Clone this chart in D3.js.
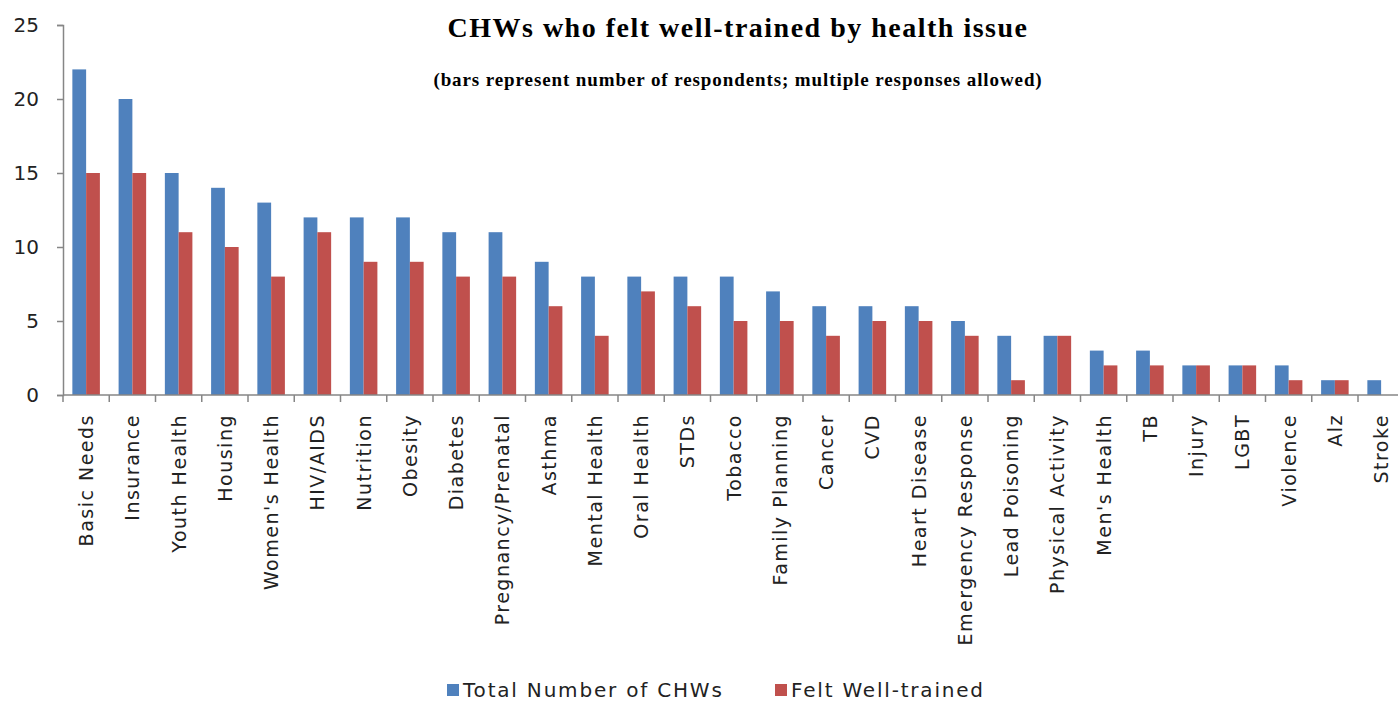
<!DOCTYPE html>
<html>
<head>
<meta charset="utf-8">
<script src="https://cdn.jsdelivr.net/npm/d3@7"></script>
<style>
  body { margin: 0; background: #fff; }
</style>
</head>
<body>
<div class="chart"></div>
<script>
var svgWidth = 1398;
var svgHeight = 703;

// data
var issues = ["Basic Needs", "Insurance", "Youth Health", "Housing", "Women's Health", "HIV/AIDS",
  "Nutrition", "Obesity", "Diabetes", "Pregnancy/Prenatal", "Asthma", "Mental Health", "Oral Health",
  "STDs", "Tobacco", "Family Planning", "Cancer", "CVD", "Heart Disease", "Emergency Response",
  "Lead Poisoning", "Physical Activity", "Men's Health", "TB", "Injury", "LGBT", "Violence", "Alz", "Stroke"];
var totalCHWs = [22, 20, 15, 14, 13, 12, 12, 12, 11, 11, 9, 8, 8, 8, 8, 7, 6, 6, 6, 5, 4, 4, 3, 3, 2, 2, 2, 1, 1];
var wellTrained = [15, 15, 11, 10, 8, 11, 9, 9, 8, 8, 6, 4, 7, 6, 5, 5, 4, 5, 5, 4, 1, 4, 2, 2, 2, 2, 1, 1, 0];
var seriesNames = ["Total Number of CHWs", "Felt Well-trained"];
var colors = ["#4F81BD", "#C0504D"];
var yTicks = [0, 5, 10, 15, 20, 25];

var margin = { top: 25, left: 63 };
var plotBottom = 395;

var svg = d3.select(".chart")
  .append("svg")
  .attr("width", svgWidth)
  .attr("height", svgHeight);

// scales
var xScale = d3.scaleBand()
  .domain(issues)
  .range([margin.left, margin.left + 29 * 46.25]);

var xSub = d3.scaleBand()
  .domain([0, 1])
  .range([0, xScale.bandwidth()])
  .paddingOuter(0.68);

var yScale = d3.scaleLinear()
  .domain([0, 25])
  .range([plotBottom, margin.top]);

// bars
var groups = svg.selectAll(".grp")
  .data(issues)
  .enter()
  .append("g")
  .attr("transform", d => `translate(${xScale(d)},0)`);

groups.selectAll("rect")
  .data((d, i) => [totalCHWs[i], wellTrained[i]])
  .enter()
  .append("rect")
  .attr("x", (d, j) => xSub(j))
  .attr("width", xSub.bandwidth())
  .attr("y", d => yScale(d))
  .attr("height", d => plotBottom - yScale(d))
  .attr("fill", (d, j) => colors[j]);

// y axis
var yAxis = svg.append("g")
  .attr("transform", `translate(${margin.left},0)`)
  .call(d3.axisLeft(yScale).tickValues(yTicks).tickSize(6).tickPadding(18));
yAxis.select(".domain").attr("stroke", "#868686").attr("stroke-width", 1.5);
yAxis.selectAll(".tick line").attr("stroke", "#868686").attr("stroke-width", 1.5);
yAxis.selectAll("text")
  .attr("font-family", "DejaVu Sans")
  .attr("font-size", 20)
  .attr("fill", "#222");

// x axis: ticks at band boundaries
var xAxis = svg.append("g")
  .attr("transform", `translate(0,${plotBottom})`);
xAxis.append("line")
  .attr("x1", margin.left).attr("x2", svgWidth)
  .attr("stroke", "#868686").attr("stroke-width", 1.5);
xAxis.selectAll(".xt")
  .data(issues)
  .enter()
  .append("line")
  .attr("x1", d => xScale(d))
  .attr("x2", d => xScale(d))
  .attr("y1", 0).attr("y2", 7)
  .attr("stroke", "#868686").attr("stroke-width", 1.5);

xAxis.selectAll(".xl")
  .data(issues)
  .enter()
  .append("text")
  .attr("transform", d => `translate(${xScale(d) + xScale.bandwidth() / 2 + 7},19) rotate(-90)`)
  .attr("text-anchor", "end")
  .attr("font-family", "DejaVu Sans")
  .attr("font-size", 19)
  .attr("letter-spacing", 1.5)
  .attr("fill", "#222")
  .text(d => d);

// title
svg.append("text")
  .attr("x", 738).attr("y", 37)
  .attr("text-anchor", "middle")
  .attr("font-family", "Liberation Serif")
  .attr("font-weight", "bold")
  .attr("font-size", 28)
  .attr("letter-spacing", 1.5)
  .text("CHWs who felt well-trained by health issue");

svg.append("text")
  .attr("x", 738).attr("y", 86)
  .attr("text-anchor", "middle")
  .attr("font-family", "Liberation Serif")
  .attr("font-weight", "bold")
  .attr("font-size", 19)
  .attr("letter-spacing", 0.9)
  .text("(bars represent number of respondents; multiple responses allowed)");

// legend
var legendX = [447, 775];
var legend = svg.selectAll(".leg")
  .data(seriesNames)
  .enter()
  .append("g")
  .attr("transform", (d, i) => `translate(${legendX[i]},684)`);
legend.append("rect")
  .attr("width", 12).attr("height", 12)
  .attr("fill", (d, i) => colors[i]);
legend.append("text")
  .attr("x", 16).attr("y", 13)
  .attr("font-family", "DejaVu Sans")
  .attr("font-size", 20)
  .attr("letter-spacing", 1.8)
  .attr("fill", "#222")
  .text(d => d);
</script>
</body>
</html>
